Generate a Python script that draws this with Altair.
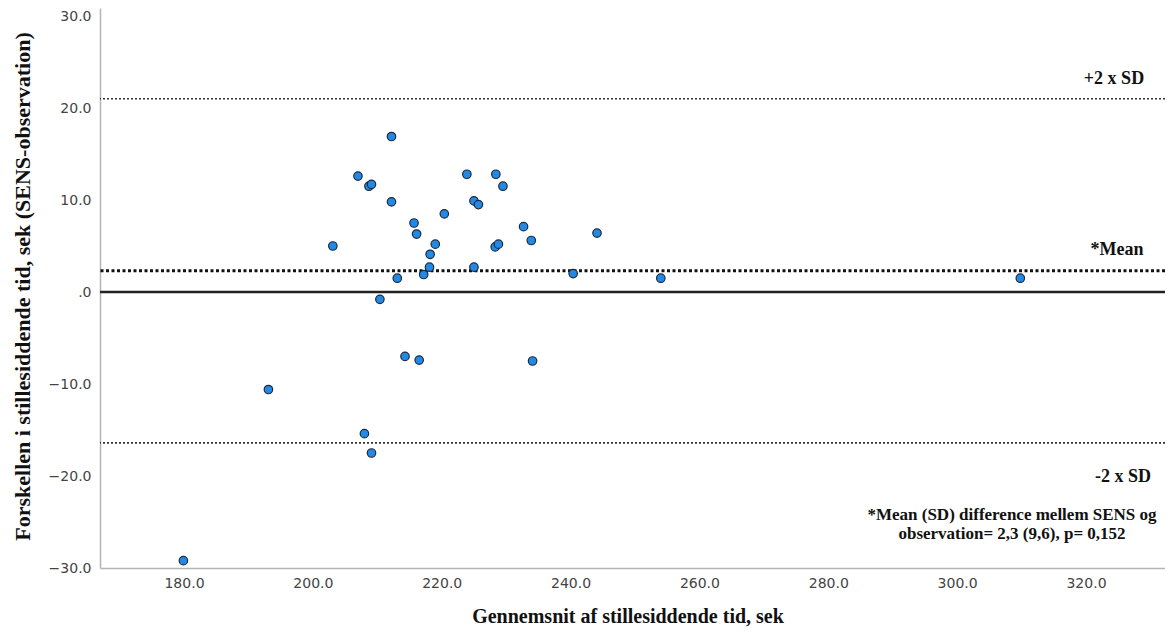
import altair as alt
import pandas as pd

# Bland-Altman data
avg_time = [179.9, 193.1, 203.1, 207.0, 208.7, 209.1, 208.0, 209.1, 210.4, 212.2,
            212.2, 213.1, 214.3, 215.7, 216.1, 216.5, 217.2, 218.1, 218.2, 219.0,
            220.4, 223.9, 225.0, 225.7, 225.0, 228.4, 229.5, 228.3, 228.8, 232.7,
            233.9, 234.1, 240.4, 244.1, 254.0, 309.8]
diff_time = [-29.2, -10.6, 5.0, 12.6, 11.5, 11.7, -15.4, -17.5, -0.8, 16.9,
             9.8, 1.5, -7.0, 7.5, 6.3, -7.4, 1.9, 2.7, 4.1, 5.2,
             8.5, 12.8, 9.9, 9.5, 2.7, 12.8, 11.5, 4.9, 5.2, 7.1,
             5.6, -7.5, 2.0, 6.4, 1.5, 1.5]

mean_diff = 2.3
upper_limit = 21.0
lower_limit = -16.4

x_ticks = [180, 200, 220, 240, 260, 280, 300, 320]
y_ticks = [-30, -20, -10, 0, 10, 20, 30]

line_labels = ["+2 x SD", "*Mean", "-2 x SD"]
note_lines = ["*Mean (SD) difference mellem SENS og",
              "observation= 2,3 (9,6), p= 0,152"]

x_title = "Gennemsnit af stillesiddende tid, sek"
y_title = "Forskellen i stillesiddende tid, sek (SENS-observation)"

df = pd.DataFrame({"avg": avg_time, "diff": diff_time})

W, H = 1065, 560
x_scale = alt.Scale(domain=[166.96, 332.26], nice=False, zero=False)
y_scale = alt.Scale(domain=[-30, 30.87], nice=False, zero=False)

serif = "Liberation Serif"

x_enc = alt.X("avg:Q", scale=x_scale, title=x_title,
              axis=alt.Axis(values=x_ticks, format=".1f", ticks=False, tickSize=0,
                            labelPadding=8, titleX=W / 2 - 5, titleY=48,
                            titleFontSize=20,
                            titleBaseline="middle", titleAlign="center"))
y_enc = alt.Y("diff:Q", scale=y_scale, title=y_title,
              axis=alt.Axis(values=y_ticks, ticks=False, tickSize=0, labelPadding=9,
                            labelExpr="datum.value == 0 ? '.0' : format(datum.value, '.1f')",
                            titleX=-78, titleY=H / 2 - 2, titleAngle=-90,
                            titleFontSize=22,
                            titleBaseline="middle", titleAlign="center"))

points = alt.Chart(df).mark_circle(
    size=72, color="#2389e6", stroke="#1b2b3b", strokeWidth=1.2, opacity=1
).encode(x=x_enc, y=y_enc)

sd_df = pd.DataFrame({"y": [upper_limit, lower_limit]})
sd_rules = alt.Chart(sd_df).mark_rule(
    strokeDash=[2, 2], strokeWidth=1.6, color="#333333"
).encode(y=alt.Y("y:Q", scale=y_scale))

mean_rule = alt.Chart(pd.DataFrame({"y": [mean_diff]})).mark_rule(
    strokeDash=[3, 2.5], strokeWidth=3, color="#111111"
).encode(y=alt.Y("y:Q", scale=y_scale))

zero_rule = alt.Chart(pd.DataFrame({"y": [0.0]})).mark_rule(
    strokeWidth=2.6, color="#222222"
).encode(y=alt.Y("y:Q", scale=y_scale))

def line_label(text, yval, xpix, dy):
    return alt.Chart(pd.DataFrame({"y": [yval], "t": [text]})).mark_text(
        font=serif, fontWeight="bold", fontSize=18, color="#111111",
        align="center", baseline="middle", dy=dy
    ).encode(x=alt.value(xpix), y=alt.Y("y:Q", scale=y_scale), text="t:N")

lab_up = line_label(line_labels[0], upper_limit, 1014, -20)
lab_mean = line_label(line_labels[1], mean_diff, 1017, -21)
lab_low = line_label(line_labels[2], lower_limit, 1023, 34)

def note(text, ypix):
    return alt.Chart(pd.DataFrame({"t": [text]})).mark_text(
        font=serif, fontWeight="bold", fontSize=17, color="#111111",
        align="center", baseline="middle"
    ).encode(x=alt.value(912), y=alt.value(ypix), text="t:N")

note1 = note(note_lines[0], 507)
note2 = note(note_lines[1], 526)

chart = alt.layer(
    sd_rules, zero_rule, mean_rule, points, lab_up, lab_mean, lab_low, note1, note2
).properties(
    width=W, height=H,
    autosize=alt.AutoSizeParams(type="none"),
    padding={"left": 92, "top": 0, "right": 0, "bottom": 61},
).configure_view(
    stroke=None
).configure_axis(
    grid=False,
    domainColor="#b5b5b5", domainWidth=1.5,
    labelFont="DejaVu Sans", labelFontSize=14, labelColor="#444444",
    titleFont=serif, titleFontWeight="bold", titleColor="#111111",
)

chart.save("out.html", embed_options={"renderer": "svg", "actions": False})
